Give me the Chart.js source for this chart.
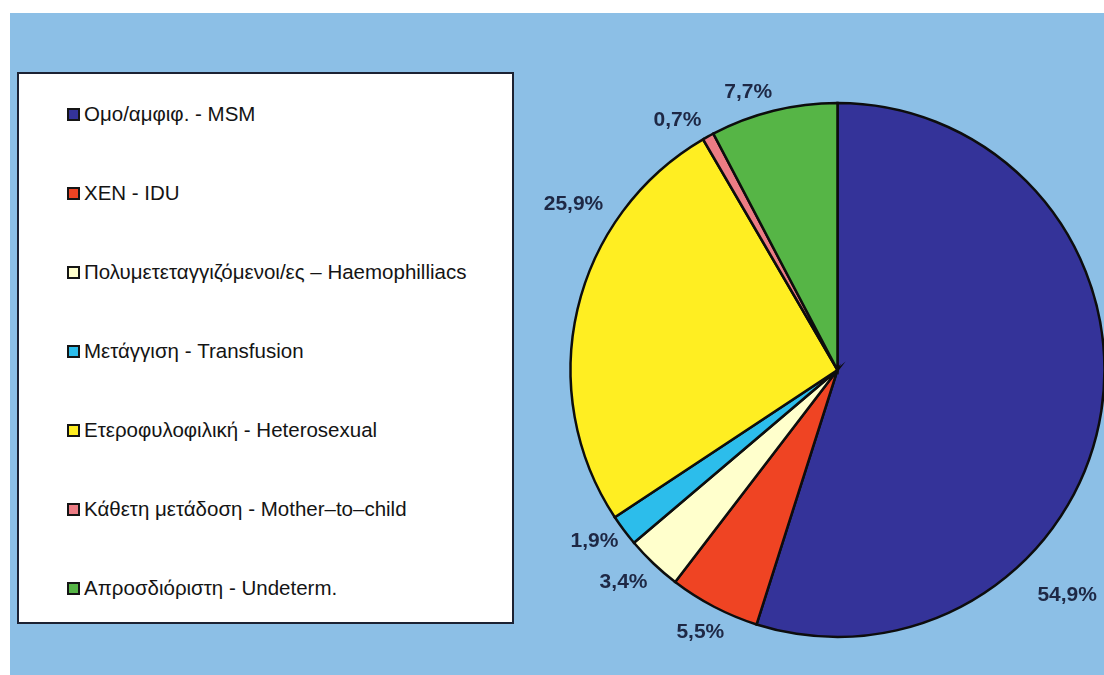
<!DOCTYPE html>
<html>
<head>
<meta charset="utf-8">
<script src="https://cdn.jsdelivr.net/npm/chart.js@4.4.1/dist/chart.umd.min.js"></script>
<style>
  html, body { margin: 0; padding: 0; background: #ffffff; }
  #page { position: relative; width: 1104px; height: 675px; overflow: hidden; }
  #panel { position: absolute; left: 10px; top: 13px; right: 0; bottom: 0; background: #8CBFE6; }
  #legend {
    position: absolute; left: 17px; top: 72px; width: 497px; height: 552px;
    background: #ffffff; border: 2px solid #1c2233; box-sizing: border-box;
    font-family: "Liberation Sans", Arial, sans-serif; font-size: 20.5px; color: #141414;
  }
  .item { position: absolute; left: 48px; height: 24px; display: flex; align-items: center; white-space: nowrap; }
  .swatch { width: 9px; height: 9px; border: 2px solid #151515; margin-right: 4px; flex: none; }
  #chartWrap { position: absolute; left: 0; top: 0; width: 1104px; height: 675px; }
</style>
</head>
<body>
<div id="page">
  <div id="panel"></div>
  <div id="legend"></div>
  <div id="chartWrap"><canvas id="pie" width="1104" height="675"></canvas></div>
</div>
<script>
// Transmission categories and their shares (%)
const categories = [
  "Ομο/αμφιφ. - MSM",
  "ΧΕΝ - IDU",
  "Πολυμετεταγγιζόμενοι/ες – Haemophilliacs",
  "Μετάγγιση - Transfusion",
  "Ετεροφυλοφιλική - Heterosexual",
  "Κάθετη μετάδοση - Mother–to–child",
  "Απροσδιόριστη - Undeterm."
];
const shares = [54.9, 5.5, 3.4, 1.9, 25.9, 0.7, 7.7];
const sliceColors = ["#343399", "#EF4423", "#FFFFCC", "#2CBDEB", "#FFEE22", "#EC7C84", "#56B546"];

// Where each percentage label sits: angle clockwise from 12 o'clock (deg), distance from centre (px)
const labelAngles = [134.5, 207.6, 225.3, 234.9, 302.2, 327.4, 342.2];
const labelDistances = [322, 296, 301, 297, 312, 297, 292];

// HTML legend built from the category list
const legend = document.getElementById('legend');
categories.forEach((name, i) => {
  const row = document.createElement('div');
  row.className = 'item';
  row.style.top = (28 + i * 79) + 'px';
  const sw = document.createElement('span');
  sw.className = 'swatch';
  sw.style.background = sliceColors[i];
  const tx = document.createElement('span');
  tx.textContent = name;
  row.appendChild(sw);
  row.appendChild(tx);
  legend.appendChild(row);
});

const fmt = v => v.toFixed(1).replace('.', ',') + '%';

const pctLabels = {
  id: 'pctLabels',
  afterDatasetsDraw(chart) {
    const ctx = chart.ctx;
    const meta = chart.getDatasetMeta(0);
    ctx.save();
    ctx.font = 'bold 21px "Liberation Sans", Arial, sans-serif';
    ctx.fillStyle = '#1E2845';
    ctx.textAlign = 'center';
    ctx.textBaseline = 'middle';
    meta.data.forEach((arc, i) => {
      const a = labelAngles[i] * Math.PI / 180 - Math.PI / 2;
      const d = labelDistances[i];
      ctx.fillText(fmt(shares[i]), arc.x + Math.cos(a) * d, arc.y + Math.sin(a) * d);
    });
    ctx.restore();
  }
};

new Chart(document.getElementById('pie'), {
  type: 'pie',
  data: {
    labels: categories,
    datasets: [{
      data: shares,
      backgroundColor: sliceColors,
      borderColor: '#0d0d0d',
      borderWidth: 2.5,
      borderJoinStyle: 'miter'
    }]
  },
  options: {
    responsive: false,
    animation: false,
    radius: 267,
    layout: { padding: { left: 571, right: 0, top: 103, bottom: 38 } },
    plugins: {
      legend: { display: false },
      tooltip: { enabled: false }
    }
  },
  plugins: [pctLabels]
});
</script>
</body>
</html>
